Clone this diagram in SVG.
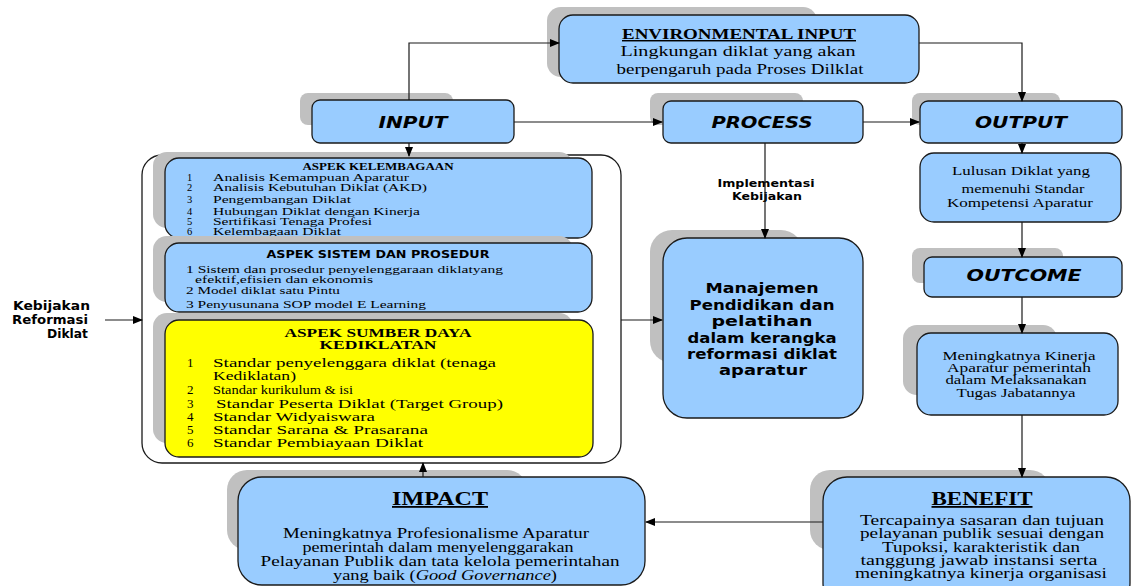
<svg xmlns="http://www.w3.org/2000/svg" width="1131" height="586" viewBox="0 0 1131 586">
<style>
.sh{fill:#c0c0c0;stroke:none}
.bx{fill:#99ccff;stroke:#1a1a1a;stroke-width:1.3}
.yl{fill:#ffff00;stroke:#1a1a1a;stroke-width:1.3}
.ct{fill:#ffffff;stroke:#1a1a1a;stroke-width:1.3}
.ln{fill:none;stroke:#1a1a1a;stroke-width:1.2}
.hd{font-family:"DejaVu Sans","Open Sans",sans-serif;font-weight:bold;font-style:italic;font-size:16px;text-anchor:middle;fill:#000}
.sr{font-family:"Liberation Serif","Times New Roman",serif;fill:#000}
.ss{font-family:"DejaVu Sans","Open Sans",sans-serif;font-weight:bold;fill:#000}
</style>
<defs>
<marker id="ar" markerWidth="10" markerHeight="8" refX="9" refY="4" orient="auto" markerUnits="userSpaceOnUse">
<path d="M0,0 L10,4 L0,8 Z" fill="#000"/>
</marker>
</defs>

<g id="env-input">
<rect class="sh" x="547" y="7" width="270" height="70" rx="14"/>
<rect class="bx" x="559" y="15" width="360" height="68" rx="14"/>
<text class="sr" x="739" y="39" font-size="14.5" font-weight="bold" text-anchor="middle" text-decoration="underline" textLength="234" lengthAdjust="spacingAndGlyphs">ENVIRONMENTAL  INPUT</text>
<text class="sr" x="738" y="56" font-size="14.5" text-anchor="middle" textLength="235" lengthAdjust="spacingAndGlyphs">Lingkungan diklat yang akan</text>
<text class="sr" x="740" y="74" font-size="14.5" text-anchor="middle" textLength="247" lengthAdjust="spacingAndGlyphs">berpengaruh pada Proses Dilklat</text>
</g>

<g id="input">
<rect class="sh" x="300" y="93" width="153" height="32" rx="8"/>
<rect class="bx" x="312" y="100" width="202" height="43" rx="8"/>
<text class="hd" x="413" y="128" textLength="69" lengthAdjust="spacingAndGlyphs">INPUT</text>
</g>

<g id="process">
<rect class="sh" x="650" y="93" width="153" height="32" rx="8"/>
<rect class="bx" x="663" y="101" width="200" height="42" rx="8"/>
<text class="hd" x="762" y="128" textLength="101" lengthAdjust="spacingAndGlyphs">PROCESS</text>
</g>

<g id="output">
<rect class="sh" x="912" y="93" width="148" height="32" rx="8"/>
<rect class="bx" x="920" y="101" width="202" height="42" rx="8"/>
<text class="hd" x="1021" y="128" textLength="92" lengthAdjust="spacingAndGlyphs">OUTPUT</text>
</g>

<g id="kebijakan">
<text class="ss" font-size="11.5" text-anchor="end" x="90" y="310" textLength="77" lengthAdjust="spacingAndGlyphs">Kebijakan</text>
<text class="ss" font-size="11.5" text-anchor="end" x="88" y="324" textLength="76" lengthAdjust="spacingAndGlyphs">Reformasi</text>
<text class="ss" font-size="11.5" text-anchor="end" x="88" y="338" textLength="41" lengthAdjust="spacingAndGlyphs">Diklat</text>
</g>

<g id="aspek-container">
<rect class="ct" x="142" y="155" width="479" height="308" rx="20"/>
</g>

<g id="aspek-kelembagaan">
<rect class="sh" x="153" y="152" width="420" height="76" rx="14"/>
<rect class="bx" x="165" y="158" width="427" height="80" rx="14"/>
<text class="sr" x="378" y="170" font-size="10" font-weight="bold" text-anchor="middle" textLength="151" lengthAdjust="spacingAndGlyphs">ASPEK KELEMBAGAAN</text>
<g class="sr" font-size="10.5">
<text x="187" y="181">1</text><text x="213" y="181" textLength="196" lengthAdjust="spacingAndGlyphs">Analisis Kemampuan Aparatur</text>
<text x="187" y="191">2</text><text x="213" y="191" textLength="214" lengthAdjust="spacingAndGlyphs">Analisis Kebutuhan Diklat (AKD)</text>
<text x="187" y="203">3</text><text x="213" y="203" textLength="138" lengthAdjust="spacingAndGlyphs">Pengembangan Diklat</text>
<text x="187" y="215">4</text><text x="213" y="215" textLength="207" lengthAdjust="spacingAndGlyphs">Hubungan Diklat dengan Kinerja</text>
<text x="187" y="225">5</text><text x="213" y="225" textLength="159" lengthAdjust="spacingAndGlyphs">Sertifikasi Tenaga Profesi</text>
<text x="187" y="235">6</text><text x="213" y="235" textLength="128" lengthAdjust="spacingAndGlyphs">Kelembagaan Diklat</text>
</g>
</g>

<g id="aspek-sistem">
<rect class="sh" x="153" y="236" width="420" height="66" rx="14"/>
<rect class="bx" x="165" y="243" width="427" height="69" rx="14"/>
<text class="ss" x="378" y="258" font-size="10" text-anchor="middle" textLength="223" lengthAdjust="spacingAndGlyphs">ASPEK SISTEM DAN PROSEDUR</text>
<g class="sr" font-size="10.5">
<text x="186" y="273" textLength="317" lengthAdjust="spacingAndGlyphs">1 Sistem dan prosedur penyelenggaraan diklatyang</text>
<text x="195" y="283" textLength="178" lengthAdjust="spacingAndGlyphs">efektif,efisien dan ekonomis</text>
<text x="186" y="294" textLength="154" lengthAdjust="spacingAndGlyphs">2 Model diklat satu Pintu</text>
<text x="186" y="308" textLength="240" lengthAdjust="spacingAndGlyphs">3 Penyusunana SOP model E Learning</text>
</g>
</g>

<g id="aspek-sumber-daya">
<rect class="sh" x="153" y="313" width="420" height="130" rx="14"/>
<rect class="yl" x="165" y="320" width="428" height="137" rx="14"/>
<text class="sr" x="378" y="337" font-size="11.5" font-weight="bold" text-anchor="middle" textLength="187" lengthAdjust="spacingAndGlyphs">ASPEK SUMBER DAYA</text>
<text class="sr" x="378" y="349" font-size="11.5" font-weight="bold" text-anchor="middle" textLength="117" lengthAdjust="spacingAndGlyphs">KEDIKLATAN</text>
<g class="sr" font-size="13">
<text x="187" y="367">1</text><text x="213" y="367" textLength="283" lengthAdjust="spacingAndGlyphs">Standar penyelenggara diklat (tenaga</text>
<text x="213" y="380" textLength="83" lengthAdjust="spacingAndGlyphs">Kediklatan)</text>
<text x="187" y="394">2</text><text x="213" y="394" textLength="140" lengthAdjust="spacingAndGlyphs">Standar kurikulum &amp; isi</text>
<text x="187" y="408">3</text><text x="216" y="408" textLength="287" lengthAdjust="spacingAndGlyphs">Standar Peserta Diklat (Target Group)</text>
<text x="187" y="421">4</text><text x="213" y="421" textLength="162" lengthAdjust="spacingAndGlyphs">Standar Widyaiswara</text>
<text x="187" y="434">5</text><text x="213" y="434" textLength="215" lengthAdjust="spacingAndGlyphs">Standar Sarana &amp; Prasarana</text>
<text x="187" y="447">6</text><text x="213" y="447" textLength="210" lengthAdjust="spacingAndGlyphs">Standar Pembiayaan Diklat</text>
</g>
</g>

<g id="implementasi-label">
<text class="ss" x="766" y="187" font-size="10" text-anchor="middle" textLength="97" lengthAdjust="spacingAndGlyphs">Implementasi</text>
<text class="ss" x="767" y="200" font-size="10" text-anchor="middle" textLength="70" lengthAdjust="spacingAndGlyphs">Kebijakan</text>
</g>

<g id="manajemen">
<rect class="sh" x="650" y="230" width="153" height="133" rx="22"/>
<rect class="bx" x="663" y="238" width="200" height="180" rx="24"/>
<g class="ss" font-size="14.5" text-anchor="middle">
<text x="762" y="293" textLength="113" lengthAdjust="spacingAndGlyphs">Manajemen</text>
<text x="762" y="310" textLength="145" lengthAdjust="spacingAndGlyphs">Pendidikan dan</text>
<text x="762" y="326" textLength="101" lengthAdjust="spacingAndGlyphs">pelatihan</text>
<text x="762" y="343" textLength="149" lengthAdjust="spacingAndGlyphs">dalam kerangka</text>
<text x="762" y="359" textLength="150" lengthAdjust="spacingAndGlyphs">reformasi diklat</text>
<text x="763" y="375" textLength="88" lengthAdjust="spacingAndGlyphs">aparatur</text>
</g>
</g>

<g id="lulusan">
<rect class="bx" x="920" y="153" width="201" height="69" rx="14"/>
<g class="sr" font-size="13" text-anchor="middle">
<text x="1021" y="175" textLength="138" lengthAdjust="spacingAndGlyphs">Lulusan Diklat yang</text>
<text x="1023" y="193" textLength="123" lengthAdjust="spacingAndGlyphs">memenuhi Standar</text>
<text x="1020" y="207" textLength="146" lengthAdjust="spacingAndGlyphs">Kompetensi Aparatur</text>
</g>
</g>

<g id="outcome">
<rect class="sh" x="912" y="248" width="151" height="35" rx="8"/>
<rect class="bx" x="924" y="257" width="198" height="40" rx="8"/>
<text class="hd" x="1024" y="281" textLength="115" lengthAdjust="spacingAndGlyphs">OUTCOME</text>
</g>

<g id="kinerja">
<rect class="sh" x="903" y="325" width="154" height="70" rx="14"/>
<rect class="bx" x="917" y="333" width="201" height="82" rx="14"/>
<g class="sr" font-size="12" text-anchor="middle">
<text x="1019" y="360" textLength="153" lengthAdjust="spacingAndGlyphs">Meningkatnya Kinerja</text>
<text x="1019" y="372" textLength="144" lengthAdjust="spacingAndGlyphs">Aparatur pemerintah</text>
<text x="1016" y="384" textLength="141" lengthAdjust="spacingAndGlyphs">dalam Melaksanakan</text>
<text x="1016" y="397" textLength="119" lengthAdjust="spacingAndGlyphs">Tugas Jabatannya</text>
</g>
</g>

<g id="impact">
<rect class="sh" x="227" y="470" width="300" height="80" rx="20"/>
<rect class="bx" x="238" y="477" width="407" height="108" rx="24"/>
<text class="sr" x="440" y="505" font-size="18" font-weight="bold" text-anchor="middle" text-decoration="underline" textLength="96" lengthAdjust="spacingAndGlyphs">IMPACT</text>
<g class="sr" font-size="14" text-anchor="middle">
<text x="436" y="538" textLength="306" lengthAdjust="spacingAndGlyphs">Meningkatnya Profesionalisme Aparatur</text>
<text x="438" y="552" textLength="271" lengthAdjust="spacingAndGlyphs">pemerintah dalam menyelenggarakan</text>
<text x="440" y="566" textLength="359" lengthAdjust="spacingAndGlyphs">Pelayanan Publik dan tata kelola pemerintahan</text>
<text x="445" y="580" textLength="224" lengthAdjust="spacingAndGlyphs">yang baik (<tspan font-style="italic">Good Governance</tspan>)</text>
</g>
</g>

<g id="benefit">
<rect class="sh" x="810" y="470" width="240" height="80" rx="20"/>
<rect class="bx" x="823" y="477" width="307" height="130" rx="24"/>
<text class="sr" x="982" y="505" font-size="18" font-weight="bold" text-anchor="middle" text-decoration="underline" textLength="101" lengthAdjust="spacingAndGlyphs">BENEFIT</text>
<g class="sr" font-size="14" text-anchor="middle">
<text x="982" y="525" textLength="244" lengthAdjust="spacingAndGlyphs">Tercapainya sasaran dan tujuan</text>
<text x="982" y="538" textLength="244" lengthAdjust="spacingAndGlyphs">pelayanan publik sesuai dengan</text>
<text x="981" y="552" textLength="198" lengthAdjust="spacingAndGlyphs">Tupoksi, karakteristik dan</text>
<text x="979" y="565" textLength="237" lengthAdjust="spacingAndGlyphs">tanggung jawab instansi serta</text>
<text x="981" y="578" textLength="252" lengthAdjust="spacingAndGlyphs">meningkatnya kinerja organisasi</text>
</g>
</g>

<g id="connectors">
<polyline class="ln" points="409,100 409,43 559,43" marker-end="url(#ar)"/>
<polyline class="ln" points="919,43 1022,43 1022,101" marker-end="url(#ar)"/>
<line class="ln" x1="514" y1="122" x2="662" y2="122" marker-end="url(#ar)"/>
<line class="ln" x1="863" y1="122" x2="919" y2="122" marker-end="url(#ar)"/>
<line class="ln" x1="409" y1="143" x2="409" y2="156" marker-end="url(#ar)"/>
<line class="ln" x1="765" y1="143" x2="765" y2="238" marker-end="url(#ar)"/>
<line class="ln" x1="621" y1="320" x2="662" y2="320" marker-end="url(#ar)"/>
<line class="ln" x1="105" y1="320" x2="142" y2="320" marker-end="url(#ar)"/>
<line class="ln" x1="1022" y1="143" x2="1022" y2="153" marker-end="url(#ar)"/>
<line class="ln" x1="1022" y1="222" x2="1022" y2="257" marker-end="url(#ar)"/>
<line class="ln" x1="1022" y1="297" x2="1022" y2="333" marker-end="url(#ar)"/>
<line class="ln" x1="1022" y1="415" x2="1022" y2="477" marker-end="url(#ar)"/>
<line class="ln" x1="823" y1="522" x2="646" y2="522" marker-end="url(#ar)"/>
<line class="ln" x1="423" y1="477" x2="423" y2="463" marker-end="url(#ar)"/>
</g>
</svg>
